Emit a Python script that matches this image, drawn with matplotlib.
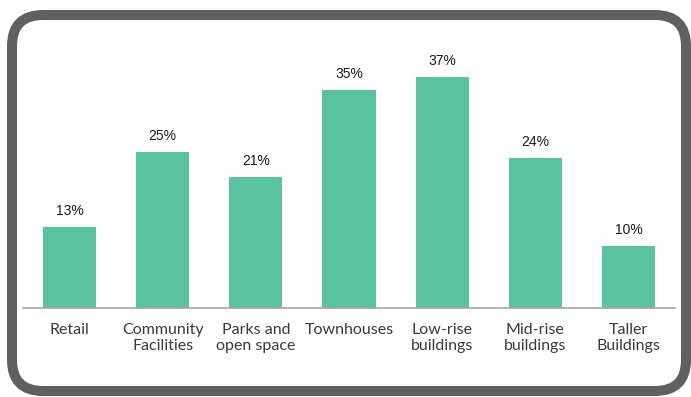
import matplotlib.pyplot as plt
from matplotlib.patches import FancyBboxPatch

# datos del gráfico
categorias = ["Retail", "Community\nFacilities", "Parks and\nopen space", "Townhouses",
              "Low-rise\nbuildings", "Mid-rise\nbuildings", "Taller\nBuildings"]
porcentajes = [13, 25, 21, 35, 37, 24, 10]
etiquetas = ["13%", "25%", "21%", "35%", "37%", "24%", "10%"]

W, H = 691, 397
fig = plt.figure(figsize=(W / 100, H / 100), dpi=100)

# marco gris con esquinas redondeadas
marco = FancyBboxPatch((12 / W, 6 / H), (686 - 12) / W, (382 - 6) / H,
                       boxstyle="round,pad=0,rounding_size=0.045",
                       transform=fig.transFigure, facecolor="none",
                       edgecolor="#5f605f", linewidth=7.2, mutation_aspect=W / H,
                       zorder=5)
fig.patches.append(marco)

ax = fig.add_axes([23 / W, 89 / H, (675 - 23) / W, (308 - 40) / H])
x = range(len(categorias))
ax.bar(x, porcentajes, width=0.57, color="#5bc2a0")
ax.set_xlim(-0.5, len(categorias) - 0.5)
ax.set_ylim(0, 268 / 6.24)

for xi, v, t in zip(x, porcentajes, etiquetas):
    ax.annotate(t, (xi, v), xytext=(0, 6.5), textcoords="offset points",
                ha="center", va="bottom", fontsize=10, color="#1a1a1a",
                family="Liberation Sans")

ax.set_xticks(list(x))
ax.set_xticklabels(categorias, fontsize=11.5, color="#3a3a3a", family="Lato",
                   linespacing=1.25)
ax.tick_params(axis="x", length=0, pad=10.5)
ax.set_yticks([])
for s in ["top", "left", "right"]:
    ax.spines[s].set_visible(False)
ax.spines["bottom"].set_color("#a6a6a6")
ax.spines["bottom"].set_linewidth(1.2)
ax.patch.set_alpha(0)

fig.savefig("out.png", dpi=100)
